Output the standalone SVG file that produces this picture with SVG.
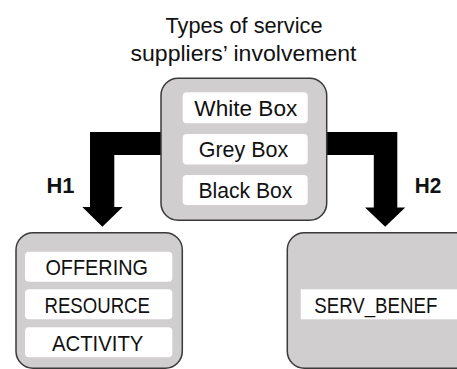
<svg xmlns="http://www.w3.org/2000/svg" width="457" height="369" viewBox="0 0 457 369">
  <style>
    .panel { fill: #d0cece; stroke: #3a3a3a; stroke-width: 1.5; }
    .item { fill: #ffffff; stroke: none; }
    .label { font-family: "Liberation Sans", Arial, sans-serif; font-size: 22px; fill: #111111; text-anchor: middle; }
    .hyp { font-family: "Liberation Sans", Arial, sans-serif; font-size: 22px; font-weight: bold; fill: #111111; text-anchor: middle; }
    .flow { fill: #000000; stroke: none; }
  </style>

  <rect width="457" height="369" fill="#ffffff"/>

  <!-- heading -->
  <g id="title">
    <text class="label" x="244" y="33" textLength="157" lengthAdjust="spacingAndGlyphs">Types of service</text>
    <text class="label" x="243.5" y="61" textLength="226" lengthAdjust="spacingAndGlyphs">suppliers’ involvement</text>
  </g>

  <!-- elbow arrows from the involvement panel down to the two outcome panels -->
  <g id="connectors">
    <path class="flow" d="M163,132 H90 V207 H82.3 L102.4,226.8 L122.7,207 H114.3 V155 H163 Z"/>
    <text class="hyp" x="60.5" y="192.7" textLength="28" lengthAdjust="spacingAndGlyphs">H1</text>
    <path class="flow" d="M325,132 H397.3 V207.5 H405.2 L385.2,226.8 L365,207.5 H373.8 V155 H325 Z"/>
    <text class="hyp" x="428" y="192.7" textLength="26.5" lengthAdjust="spacingAndGlyphs">H2</text>
  </g>

  <g id="involvement">
    <rect class="panel" x="161" y="78.3" width="165.7" height="142" rx="17" ry="17"/>
    <rect class="item" x="182.7" y="92.3" width="125" height="31" rx="4" ry="4"/>
    <rect class="item" x="182.7" y="134" width="125" height="30.5" rx="4" ry="4"/>
    <rect class="item" x="182.7" y="175" width="125" height="30" rx="4" ry="4"/>
    <text class="label" x="245.8" y="115.8" textLength="103" lengthAdjust="spacingAndGlyphs">White Box</text>
    <text class="label" x="243.5" y="157.2" textLength="89.5" lengthAdjust="spacingAndGlyphs">Grey Box</text>
    <text class="label" x="245.4" y="198" textLength="94" lengthAdjust="spacingAndGlyphs">Black Box</text>
  </g>

  <g id="elements">
    <rect class="panel" x="16" y="232.7" width="166.3" height="135.5" rx="17" ry="17"/>
    <rect class="item" x="25" y="251.7" width="147.3" height="30" rx="4" ry="4"/>
    <rect class="item" x="25" y="289.3" width="147.3" height="30" rx="4" ry="4"/>
    <rect class="item" x="25" y="327.3" width="147.3" height="30" rx="4" ry="4"/>
    <text class="label" x="96.7" y="274.9" textLength="102.5" lengthAdjust="spacingAndGlyphs">OFFERING</text>
    <text class="label" x="97.2" y="312.5" textLength="105.5" lengthAdjust="spacingAndGlyphs">RESOURCE</text>
    <text class="label" x="97.7" y="350.5" textLength="91.5" lengthAdjust="spacingAndGlyphs">ACTIVITY</text>
  </g>

  <g id="benefits">
    <rect class="panel" x="287.3" y="232.7" width="190" height="135.5" rx="17" ry="17"/>
    <rect class="item" x="300.7" y="289.3" width="156.3" height="30"/>
    <text class="label" x="375.8" y="312.5" textLength="123" lengthAdjust="spacingAndGlyphs">SERV_BENEF</text>
  </g>
</svg>
